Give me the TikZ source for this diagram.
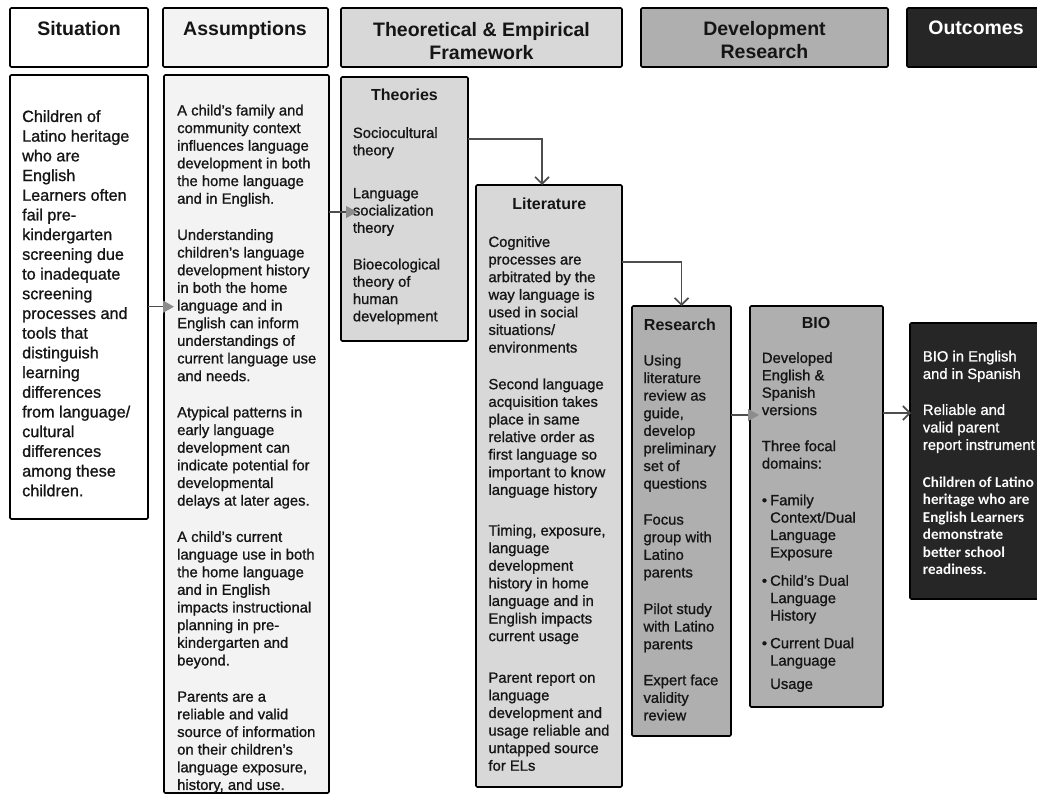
\documentclass[tikz,border=0pt]{standalone}
\usepackage{fontspec}
\setmainfont{Liberation Sans}
\newfontfamily\bodyfont{Liberation Sans}[FakeBold=1,Ligatures=TeX]
\newfontfamily\cbfont{Carlito}
\usetikzlibrary{arrows.meta}
\definecolor{cAss}{HTML}{F3F3F3}
\definecolor{cThe}{HTML}{D8D8D8}
\definecolor{cDev}{HTML}{AFAFAF}
\definecolor{cOut}{HTML}{262626}
\definecolor{cLine}{HTML}{4D4D4D}
\definecolor{cHead}{HTML}{8C8C8C}
\definecolor{cText}{HTML}{151515}
\newcommand{\cbb}{\cbfont\bfseries\fontsize{15.1}{17.5}\selectfont}
\newcommand{\bul}{\makebox[8.3pt][l]{\textbullet}}
\newcommand{\ind}{\hspace*{8.3pt}}
\begin{document}
\begin{tikzpicture}[x=1pt,y=-1pt,
 box/.style={draw=black, line width=1.6pt, rounded corners=1.2pt, inner sep=0pt, outer sep=0pt},
 hdr/.style={anchor=north, align=center, inner sep=0pt, text=cText, font=\fontsize{19.5}{23.5}\selectfont\bfseries},
 body/.style={anchor=north west, align=left, inner sep=0pt, text=cText, font=\bodyfont\fontsize{14.8}{17.6}\selectfont},
 ttl/.style={inner sep=0pt, text=cText, font=\fontsize{16}{19}\selectfont\bfseries},
 garrow/.style={draw=cLine, line width=1.3pt, -{Triangle[length=11pt,width=12pt,color=cHead]}},
 varrow/.style={draw=cLine, line width=1.6pt, -{Straight Barb[length=7pt,width=14pt]}},
]
\useasboundingbox (0,0) rectangle (1037,795);
% header boxes
\node[box, fill=white, minimum width=138pt, minimum height=59pt] (hSit) at (79,37.5) {};
\node[box, fill=cAss, minimum width=165pt, minimum height=59pt] (hAss) at (245.5,37.5) {};
\node[box, fill=cThe, minimum width=281pt, minimum height=59pt] (hThe) at (481.5,37.5) {};
\node[box, fill=cDev, minimum width=247pt, minimum height=59pt] (hDev) at (764.5,37.5) {};
\node[box, fill=cOut, minimum width=138pt, minimum height=59pt] (hOut) at (976,37.5) {};
\node[hdr] (tSit) at (79,21) {Situation};
\node[hdr] (tAss) at (245,21) {Assumptions};
\node[hdr] (tThe) at (481.5,22) {Theoretical \& Empirical\\Framework};
\node[hdr] (tDev) at (764.5,21) {Development\\Research};
\node[hdr, text=white] (tOut) at (976,21) {Outcomes};
% body boxes
\node[box, fill=white, minimum width=138pt, minimum height=444pt] (bSit) at (79,297) {};
\node[box, fill=cAss, minimum width=165pt, minimum height=718pt] (bAss) at (246.5,434) {};
\node[box, fill=cThe, minimum width=127pt, minimum height=264pt] (theo) at (404.5,209) {};
\node[box, fill=cThe, minimum width=146pt, minimum height=602pt] (lit) at (549,486) {};
\node[box, fill=cDev, minimum width=99pt, minimum height=430pt] (res) at (681.5,521) {};
\node[box, fill=cDev, minimum width=133pt, minimum height=401pt] (bio) at (816.5,506.5) {};
\node[box, fill=cOut, minimum width=135pt, minimum height=276pt] (out) at (977.5,461) {};
% texts
\node[body, font=\bodyfont\fontsize{16.2}{19.7}\selectfont] (xSit) at (22,110) {Children of\\Latino heritage\\who are\\English\\Learners often\\fail pre-\\kindergarten\\screening due\\to inadequate\\screening\\processes and\\tools that\\distinguish\\learning\\differences\\from language/\\cultural\\differences\\among these\\children.};
\node[body, font=\bodyfont\fontsize{14.8}{17.65}\selectfont] (xAss) at (177,104.5) {A child’s family and\\community context\\influences language\\development in both\\the home language\\and in English.\\[18.6pt]Understanding\\children’s language\\development history\\in both the home\\language and in\\English can inform\\understandings of\\current language use\\and needs.\\[18.6pt]Atypical patterns in\\early language\\development can\\indicate potential for\\developmental\\delays at later ages.\\[18.6pt]A child’s current\\language use in both\\the home language\\and in English\\impacts instructional\\planning in pre-\\kindergarten and\\beyond.\\[18.6pt]Parents are a\\reliable and valid\\source of information\\on their children’s\\language exposure,\\history, and use.};
\node[ttl] (tTheo) at (404.5,95) {Theories};
\node[body, font=\bodyfont\fontsize{14.8}{17.3}\selectfont] (xTheo) at (352.7,127) {Sociocultural\\theory\\[25.7pt]Language\\socialization\\theory\\[19.3pt]Bioecological\\theory of\\human\\development};
\node[ttl] (tLit) at (549.3,203.3) {Literature};
\node[body] (xLit) at (488.3,236) {Cognitive\\processes are\\arbitrated by the\\way language is\\used in social\\situations/\\environments\\[19.1pt]Second language\\acquisition takes\\place in same\\relative order as\\first language so\\important to know\\language history\\[23.1pt]Timing, exposure,\\language\\development\\history in home\\language and in\\English impacts\\current usage\\[24pt]Parent report on\\language\\development and\\usage reliable and\\untapped source\\for ELs};
\node[ttl] (tRes) at (680,324.3) {Research};
\node[body] (xRes) at (643.3,354.5) {Using\\literature\\review as\\guide,\\develop\\preliminary\\set of\\questions\\[18.4pt]Focus\\group with\\Latino\\parents\\[19pt]Pilot study\\with Latino\\parents\\[18.4pt]Expert face\\validity\\review};
\node[ttl] (tBio) at (816,322.7) {BIO};
\node[body, font=\bodyfont\fontsize{14.8}{17.4}\selectfont] (xBio) at (761.7,352) {Developed\\English \&\\Spanish\\versions\\[18.6pt]Three focal\\domains:\\[19.3pt]\bul Family\\\ind Context/Dual\\\ind Language\\\ind Exposure\\[10.9pt]\bul Child’s Dual\\\ind Language\\\ind History\\[10.3pt]\bul Current Dual\\\ind Language\\[5.9pt]\ind Usage};
\node[body, text=white, font=\bodyfont\fontsize{14.8}{17.5}\selectfont] (xOut) at (922.7,350.5) {BIO in English\\and in Spanish\\[18.5pt]Reliable and\\valid parent\\report instrument\\[20pt]\cbb Children of Latino\\\cbb heritage who are\\\cbb English Learners\\\cbb demonstrate\\\cbb better school\\\cbb readiness.};
% connectors
\draw[garrow, shorten >=-10pt] (bSit.east |- 0,306.7) -- (bAss.west |- 0,306.7);
\draw[garrow, shorten >=-16pt] (bAss.east |- 0,212) -- (theo.west |- 0,212);
\draw[garrow, shorten >=-9pt] (res.east |- 0,415) -- (bio.west |- 0,415);
\draw[varrow, shorten >=-1pt] (bio.east |- 0,413) -- (out.west |- 0,413);
\draw[varrow] (theo.east |- 0,139) -| ([xshift=-7pt]lit.north);
\draw[varrow] (lit.east |- 0,262) -| (res.north);
\end{tikzpicture}
\end{document}
